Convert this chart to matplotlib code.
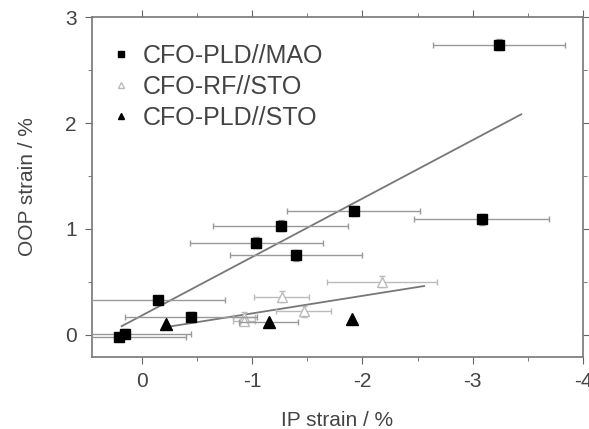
import matplotlib
matplotlib.use("Agg")
import matplotlib.pyplot as plt
from matplotlib.ticker import MultipleLocator

plt.rcParams["font.family"] = ["Liberation Sans", "DejaVu Sans"]

# CFO-PLD//MAO
mao_x = [-3.24, -1.92, -3.08, -1.26, -1.04, -1.40, -0.15, -0.45, 0.20, 0.15]
mao_y = [2.74, 1.17, 1.09, 1.03, 0.87, 0.75, 0.33, 0.17, -0.02, 0.01]
mao_xerr = [0.60, 0.60, 0.61, 0.61, 0.60, 0.60, 0.61, 0.60, 0.60, 0.60]
mao_yerr = [0.05, 0.05, 0.05, 0.05, 0.05, 0.05, 0.04, 0.04, 0.04, 0.04]

# CFO-RF//STO
rf_x = [-2.18, -1.27, -1.47, -0.93, -0.93]
rf_y = [0.50, 0.36, 0.22, 0.17, 0.13]
rf_xerr = [0.50, 0.25, 0.25, 0.10, 0.10]
rf_yerr = [0.05, 0.05, 0.05, 0.04, 0.04]

# CFO-PLD//STO
sto_x = [-0.22, -1.15, -1.91]
sto_y = [0.10, 0.12, 0.15]
sto_xerr = [0.0, 0.27, 0.0]

# linear fits (slope, intercept, x range)
fit_mao = (-0.553, 0.18, [0.18, -3.44])
fit_sto = (-0.166, 0.035, [-0.245, -2.56])

fig = plt.figure(figsize=(5.89, 4.29), dpi=100)
ax = fig.add_axes([0.156, 0.168, 0.834, 0.792])

text_col = "#444444"

for slope, icpt, xr in (fit_mao, fit_sto):
    ax.plot(xr, [icpt + slope * v for v in xr], color="#777777", lw=1.3, zorder=2)

ax.errorbar(mao_x, mao_y, xerr=mao_xerr, yerr=mao_yerr, fmt="s", ms=7,
            color="black", ecolor="#999999", elinewidth=1, capsize=2,
            label="CFO-PLD//MAO", zorder=4)
ax.errorbar(rf_x, rf_y, xerr=rf_xerr, yerr=rf_yerr, fmt="^", ms=7,
            mfc="white", mec="#bbbbbb", color="#bbbbbb", ecolor="#bbbbbb",
            elinewidth=1, capsize=2, label="CFO-RF//STO", zorder=3)
ax.errorbar(sto_x, sto_y, xerr=sto_xerr, fmt="^", ms=8,
            color="black", ecolor="#999999", elinewidth=1, capsize=2,
            label="CFO-PLD//STO", zorder=4)

ax.set_xlim(0.45, -4)
ax.set_ylim(-0.21, 3)
ax.xaxis.set_major_locator(MultipleLocator(1))
ax.xaxis.set_minor_locator(MultipleLocator(0.5))
ax.yaxis.set_major_locator(MultipleLocator(1))
ax.yaxis.set_minor_locator(MultipleLocator(0.5))
ax.set_xticks([0, -1, -2, -3, -4])
ax.set_xticklabels(["0", "-1", "-2", "-3", "-4"])

ax.tick_params(which="both", direction="out", top=True, right=True,
               labeltop=False, labelright=False, colors="#666666",
               labelcolor=text_col, labelsize=15)
ax.tick_params(which="major", length=5, pad=6)
ax.tick_params(which="minor", length=3)
for sp in ax.spines.values():
    sp.set_color("#777777")
    sp.set_linewidth(1.2)

ax.set_xlabel("IP strain / %", fontsize=15, color=text_col, labelpad=14)
ax.set_ylabel("OOP strain / %", fontsize=15, color=text_col, labelpad=20)

handles, labels = ax.get_legend_handles_labels()
handles = [h[0] for h in handles]
leg = ax.legend(handles, labels, loc="upper left", frameon=False, fontsize=18,
                handlelength=0.5, handletextpad=0.6, labelspacing=0.28,
                borderaxespad=0.0, markerscale=0.6,
                bbox_to_anchor=(0.027, 0.95))
for t in leg.get_texts():
    t.set_color(text_col)

fig.savefig("out.png", dpi=100)
